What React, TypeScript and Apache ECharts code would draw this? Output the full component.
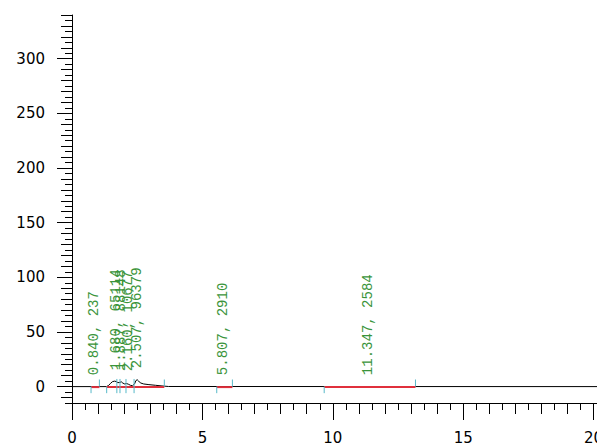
import React, { useEffect, useRef } from "react";
import * as echarts from "echarts";

// Chromatogram signal (retention time in min, response)
const signalT = [0, 1.32, 1.40, 1.48, 1.55, 1.63, 1.70, 1.76, 1.83, 1.89, 1.95, 2.02, 2.09, 2.16, 2.24, 2.32, 2.40, 2.45, 2.50, 2.55, 2.62, 2.75, 2.95, 3.2, 3.45, 3.7, 20.13];
const signalV = [0, 0, 1.0, 3.0, 4.5, 5.0, 4.6, 3.6, 3.8, 4.4, 3.2, 2.4, 2.8, 2.2, 1.2, 0.8, 2.5, 5.5, 6.3, 5.2, 3.4, 2.4, 1.8, 1.2, 0.6, 0.1, 0];

// Peaks
const peakRT = [0.840, 1.680, 1.887, 2.160, 2.507, 5.807, 11.347];
const peakArea = [237, 65114, 88148, 10677, 96379, 2910, 2584];
const peakHeight = [0, 4.5, 4.5, 3.5, 6.3, 0, 0];

// Integration baselines
const baseStart = [0.73, 1.33, 5.55, 9.67];
const baseEnd = [1.05, 3.54, 6.15, 13.17];

// Peak start / end / drop markers
const markStart = [0.73, 1.33, 5.55, 9.67];
const markEnd = [1.05, 3.54, 6.15, 13.17];
const markDrop = [1.72, 1.84, 2.07, 2.38];

// Axis ticks
const xMajor = [0, 5, 10, 15, 20];
const xMedium = Array.from({ length: 21 }, (_, i) => i);
const xMinor = Array.from({ length: 20 }, (_, i) => i + 0.5);
const yMajor = [0, 50, 100, 150, 200, 250, 300];
const yMedium = Array.from({ length: 36 }, (_, i) => -10 + i * 10);
const yMinor = Array.from({ length: 36 }, (_, i) => -15 + i * 10);

const X_MIN = 0;
const X_MAX = 20.13;
const Y_MIN = -15;
const Y_MAX = 340;

const AXIS_FONT = "DejaVu Sans";

export default function App() {
  const ref = useRef<HTMLDivElement>(null);
  useEffect(() => {
    if (!ref.current) return;
    const chart = echarts.init(ref.current, null, { renderer: "svg" });

    const mkX = (vals: number[], len: number, labels: boolean, line: boolean) => ({
      type: "value",
      min: X_MIN,
      max: X_MAX,
      position: "bottom",
      axisLine: { show: line, onZero: false, lineStyle: { color: "#000", width: 1 } },
      axisTick: { show: true, customValues: vals, length: len, lineStyle: { color: "#000", width: 1 } },
      axisLabel: labels
        ? { show: true, customValues: vals, margin: 27, fontSize: 15, fontFamily: AXIS_FONT, color: "#000" }
        : { show: false },
      splitLine: { show: false },
    });
    const mkY = (vals: number[], len: number, labels: boolean, line: boolean) => ({
      type: "value",
      min: Y_MIN,
      max: Y_MAX,
      position: "left",
      axisLine: { show: line, onZero: false, lineStyle: { color: "#000", width: 1 } },
      axisTick: { show: true, customValues: vals, length: len, lineStyle: { color: "#000", width: 1 } },
      axisLabel: labels
        ? { show: true, customValues: vals, margin: 27, fontSize: 15, fontFamily: AXIS_FONT, color: "#000" }
        : { show: false },
      splitLine: { show: false },
    });

    const signal = signalT.map((t, i) => [t, signalV[i]]);
    const baselines = baseStart.map((s, i) => [s, baseEnd[i]]);
    const markers = [
      ...markStart.map((x) => [x, 0, -6]),
      ...markEnd.map((x) => [x, 0, 6.5]),
      ...markDrop.map((x) => [x, -6, 7]),
    ];
    const labels = peakRT.map((t, i) => [t, peakHeight[i] + 10.5, i]);

    chart.setOption({
      animation: false,
      backgroundColor: "#fff",
      grid: { left: 72, right: 0, top: 15, bottom: 45, containLabel: false, outerBoundsMode: "none" },
      xAxis: [mkX(xMajor, 17, true, true), mkX(xMedium, 11, false, false), mkX(xMinor, 7, false, false)],
      yAxis: [mkY(yMajor, 15, true, true), mkY(yMedium, 11, false, false), mkY(yMinor, 7, false, false)],
      series: [
        {
          type: "line",
          data: signal,
          showSymbol: false,
          symbol: "none",
          lineStyle: { color: "#000", width: 1 },
          z: 3,
        },
        {
          type: "custom",
          data: baselines,
          z: 4,
          renderItem: (params: any, api: any) => {
            const a = api.coord([api.value(0), 0]);
            const b = api.coord([api.value(1), 0]);
            return {
              type: "line",
              shape: { x1: a[0], y1: a[1] + 0.5, x2: b[0], y2: b[1] + 0.5 },
              style: { stroke: "#e0303c", lineWidth: 2 },
            };
          },
        },
        {
          type: "custom",
          data: markers,
          z: 5,
          renderItem: (params: any, api: any) => {
            const a = api.coord([api.value(0), api.value(1)]);
            const b = api.coord([api.value(0), api.value(2)]);
            return {
              type: "line",
              shape: { x1: a[0], y1: a[1], x2: b[0], y2: b[1] },
              style: { stroke: "#58b9c9", lineWidth: 1 },
            };
          },
        },
        {
          type: "custom",
          data: labels,
          z: 6,
          renderItem: (params: any, api: any) => {
            const p = api.coord([api.value(0), api.value(1)]);
            const i = api.value(2);
            return {
              type: "text",
              x: p[0],
              y: p[1],
              rotation: Math.PI / 2,
              style: {
                text: `${peakRT[i].toFixed(3)}, ${peakArea[i]}`,
                fill: "#3a943a",
                font: '14px "Liberation Mono", "Courier New", monospace',
                align: "left",
                verticalAlign: "middle",
              },
            };
          },
        },
      ],
    });
    return () => chart.dispose();
  }, []);

  return (
    <div
      ref={ref}
      style={{ position: "fixed", left: 0, top: 0, width: 597, height: 448, background: "#fff" }}
    />
  );
}
